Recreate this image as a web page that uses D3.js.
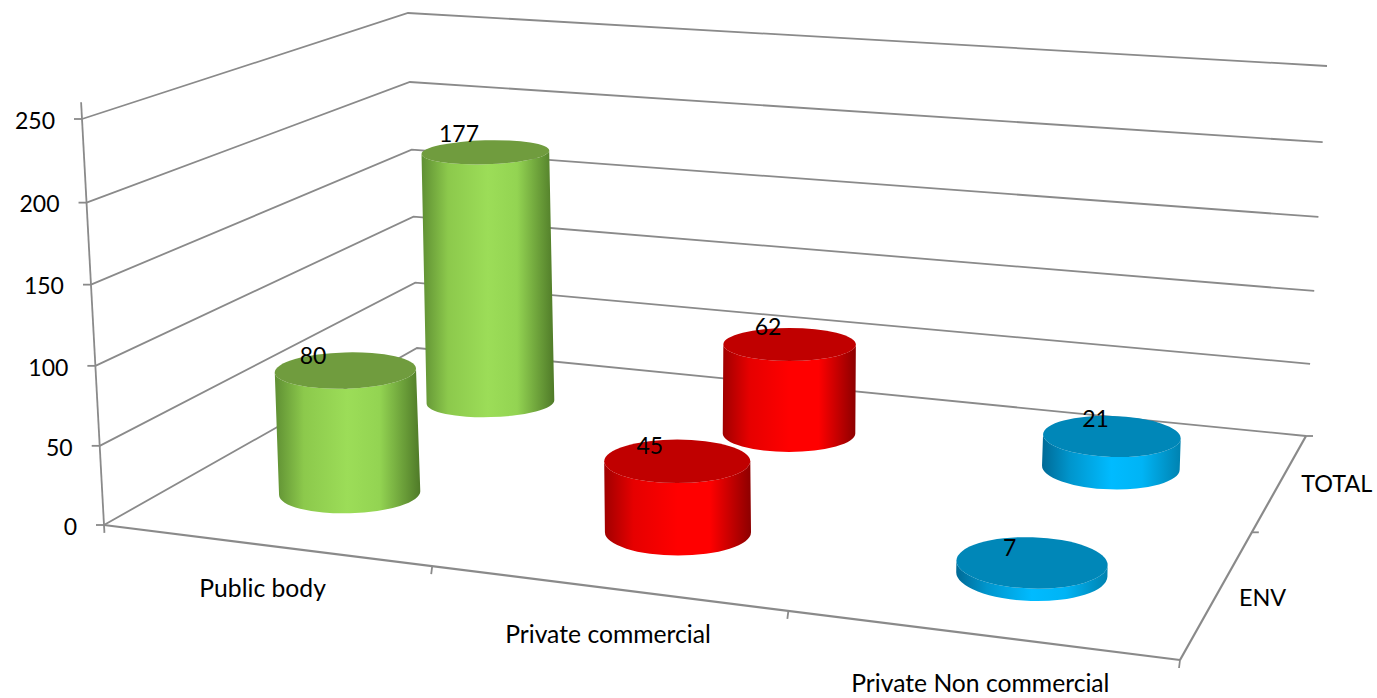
<!DOCTYPE html>
<html>
<head>
<meta charset="utf-8">
<script src="https://cdnjs.cloudflare.com/ajax/libs/d3/7.8.5/d3.min.js"></script>
<style>
  body { margin: 0; background: #fff; }
  text { font-family: Lato, "Open Sans", sans-serif; font-size: 23px; fill: #000; }
  .catLabel { font-size: 24.7px; }
  .serLabel { font-size: 23.4px; }
</style>
</head>
<body>
<div id="viz-container"></div>
<script>
let categories = ["Public body", "Private commercial", "Private Non commercial"];
let seriesNames = ["ENV", "TOTAL"];
let envValues = [80, 45, 7];
let totalValues = [177, 62, 21];
let valueTicks = [0, 50, 100, 150, 200, 250];

let sideStops = [
  ["#5f8f33", "#8cc94c", "#9cdd58", "#93d452", "#4f7a28"],
  ["#a00000", "#e60000", "#ff0000", "#ff0000", "#8c0000"],
  ["#006a96", "#0095cc", "#00bbff", "#00b4f5", "#0082b0"]
];
let topColors = ["#709c3e", "#c00000", "#0087b8"];

let w = 1377, h = 698;

let viz = d3.select("#viz-container")
  .append("svg")
    .attr("width", w)
    .attr("height", h)
;

// chart box corners on screen, bottom and top of the value axis
let floorF0 = [104, 525], floorF1 = [1180, 660], floorB0 = [417, 348], floorB1 = [1306, 436];
let topF0 = [82, 119], topF1 = [1188, 215], topB0 = [408, 13], topB1 = [1327, 66];

// the scales are uneven because of the perspective
let uScale = d3.scaleLinear().domain([0, 0.5, 1, 1.5, 2, 2.5, 3]).range([0, 0.153, 0.305, 0.474, 0.636, 0.82, 1]);
let tScale = d3.scaleLinear().domain([0, 0.25, 0.5, 0.75, 1]).range([0, 0.285, 0.57, 0.78, 1]);
let vScale = d3.scaleLinear().domain(valueTicks).range([0, 0.195, 0.392, 0.592, 0.794, 1]);
let catPos = d3.scaleBand().domain(categories).range([0, 3]);
let serPos = d3.scalePoint().domain(seriesNames).range([0, 1]).padding(0.5);

function mix(a, b, k) {
  return [a[0] + (b[0] - a[0]) * k, a[1] + (b[1] - a[1]) * k];
}
function project(u, t, value) {
  let v = vScale(value);
  let low = mix(mix(floorF0, floorF1, u), mix(floorB0, floorB1, u), t);
  let high = mix(mix(topF0, topF1, u), mix(topB0, topB1, u), t);
  return mix(low, high, v);
}

let line = d3.line();
let gridColor = "#8a8a8a";

function drawLine(points, width) {
  viz.append("path")
    .attr("d", line(points))
    .attr("fill", "none")
    .attr("stroke", gridColor)
    .attr("stroke-width", width || 1.8)
  ;
}

// walls
valueTicks.forEach(function(d) {
  drawLine([project(0, 0, d), project(0, 1, d), project(1, 1, d)]);
  let p = project(0, 0, d);
  drawLine([[p[0] - 8, p[1]], p]);
});
drawLine([project(0, 0, 260), project(0, 0, -5)]);

// floor edges
drawLine([project(0, 0, 0), project(1, 0, 0)], 2.2);
drawLine([project(1, 0, 0), project(1, 1, 0)], 2.2);
[1, 2, 3].forEach(function(d) {
  let p = project(uScale(d), 0, 0);
  drawLine([p, [p[0] - 1, p[1] + 8]]);
});
[0.5, 1].forEach(function(d) {
  let p = project(1, tScale(d), 0);
  drawLine([p, [p[0] + 7, p[1]]]);
});

function uOf(cat) {
  return uScale(catPos(cat) + catPos.bandwidth() / 2);
}
function tOf(ser) {
  return tScale(serPos(ser));
}

// tick labels
viz.selectAll(".valueLabel").data(valueTicks).enter().append("text")
    .attr("class", "valueLabel")
    .attr("x", d => project(0, 0, d)[0] - 27)
    .attr("y", d => project(0, 0, d)[1] + 4)
    .attr("text-anchor", "end")
    .attr("dominant-baseline", "middle")
    .text(d => d)
;
viz.selectAll(".catLabel").data(categories).enter().append("text")
    .attr("class", "catLabel")
    .attr("x", d => project(uOf(d), 0, 0)[0] - 6)
    .attr("y", d => project(uOf(d), 0, 0)[1] + 44 + 7 * uOf(d))
    .attr("text-anchor", "middle")
    .attr("dominant-baseline", "middle")
    .text(d => d)
;
viz.selectAll(".serLabel").data(seriesNames).enter().append("text")
    .attr("class", "serLabel")
    .attr("x", d => project(1, tOf(d), 0)[0] + 23)
    .attr("y", d => project(1, tOf(d), 0)[1] + 5 - 5 * tOf(d))
    .attr("dominant-baseline", "middle")
    .text(d => d)
;

// gradients for the cylinder sides
let defs = viz.append("defs");
let stopAt = [0, 0.2, 0.5, 0.72, 1];
sideStops.forEach(function(stops, i) {
  let grad = defs.append("linearGradient").attr("id", "side" + i);
  stops.forEach(function(c, j) {
    grad.append("stop").attr("offset", stopAt[j]).attr("stop-color", c);
  });
});

// back row first so the front row covers it
let rows = [
  { series: "TOTAL", values: totalValues },
  { series: "ENV", values: envValues }
];

rows.forEach(function(row) {
  categories.forEach(function(cat, i) {
    drawCylinder(cat, i, row.series, row.values[i]);
  });
});

function radii(u, t, value) {
  return {
    rx: 73.4 + 7.5 * u - 13.7 * t,
    ry: 20.4 + 10 * u - 10 * t - value * 0.012
  };
}

function drawCylinder(cat, i, ser, value) {
  let u = uOf(cat), t = tOf(ser);
  let base = project(u, t, 0);
  let top = project(u, t, value);
  let rb = radii(u, t, 0);
  let rt = radii(u, t, value);
  let tilt = (u - 0.47) * 5;
  let rad = tilt * Math.PI / 180;
  let dx = Math.cos(rad), dy = Math.sin(rad);

  let tl = [top[0] - rt.rx * dx, top[1] - rt.rx * dy];
  let tr = [top[0] + rt.rx * dx, top[1] + rt.rx * dy];
  let bl = [base[0] - rb.rx * dx, base[1] - rb.rx * dy];
  let br = [base[0] + rb.rx * dx, base[1] + rb.rx * dy];

  let d = "M" + tl + "L" + bl
    + "A" + rb.rx + "," + (rb.ry + 1) + " " + tilt + " 0 0 " + br
    + "L" + tr
    + "A" + rt.rx + "," + rt.ry + " " + tilt + " 0 1 " + tl + "Z";

  viz.append("path")
    .attr("d", d)
    .attr("fill", "url(#side" + i + ")")
  ;
  viz.append("ellipse")
    .attr("cx", 0)
    .attr("cy", 0)
    .attr("rx", rt.rx)
    .attr("ry", rt.ry)
    .attr("transform", "translate(" + top + ") rotate(" + tilt + ")")
    .attr("fill", topColors[i])
  ;
  viz.append("text")
    .attr("x", top[0] - 38 + 15 * u + 12 * t)
    .attr("y", top[1] - 11 - 6 * t)
    .attr("text-anchor", "middle")
    .attr("dominant-baseline", "middle")
    .text(value)
  ;
}
</script>
</body>
</html>
